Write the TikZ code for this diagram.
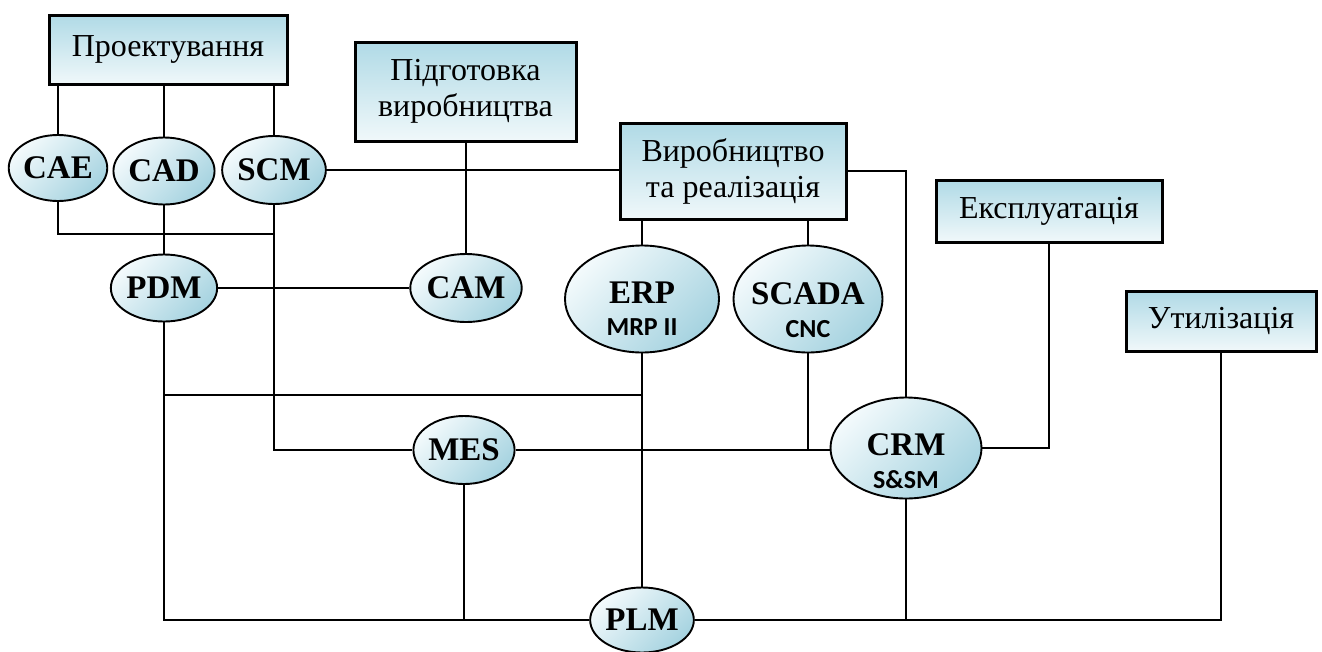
\documentclass[tikz,border=0pt]{standalone}
\usepackage{fontspec}
\setmainfont{Liberation Serif}
\newfontfamily\calib{Carlito}
\usetikzlibrary{shapes.geometric,backgrounds}
\definecolor{boxtop}{HTML}{B0DAE6}
\definecolor{boxbot}{HTML}{F0F8FA}
\definecolor{elllight}{HTML}{F3FAFC}
\definecolor{elldark}{HTML}{A6D3E0}
\begin{document}
\begin{tikzpicture}[x=1pt,y=-1pt,
  stagebox/.style={draw=black, line width=3pt, top color=boxtop, bottom color=boxbot,
    inner sep=0pt, align=center, font=\fontsize{32}{36}\selectfont},
  sysell/.style={ellipse, draw=black, line width=1.9pt, top color=elllight,
    bottom color=elldark, shading angle=45, inner sep=0pt,
    font=\fontsize{33}{36}\selectfont\bfseries},
  mainlbl/.style={anchor=base, inner sep=0pt, font=\fontsize{33}{36}\selectfont\bfseries},
  sublbl/.style={anchor=base, inner sep=0pt, font=\fontsize{26}{30}\selectfont\calib\bfseries},
  link/.style={draw=black, line width=1.9pt}]
\useasboundingbox (0,0) rectangle (1322,651);

% life-cycle stages
\node[stagebox, minimum width=238pt, minimum height=69pt] (proj) at (168,49.5) {Проектування};
\node[stagebox, minimum width=221pt, minimum height=99pt] (prep) at (465.5,91.5) {Підготовка\\виробництва};
\node[stagebox, minimum width=226pt, minimum height=96pt] (prod) at (733,171) {Виробництво\\та реалізація};
\node[stagebox, minimum width=226pt, minimum height=62pt] (expl) at (1049,211) {Експлуатація};
\node[stagebox, minimum width=190pt, minimum height=60pt] (util) at (1221,321) {Утилізація};

% information systems
\node[sysell, minimum width=97pt, minimum height=66pt] (cae) at (58,168) {CAE};
\node[sysell, minimum width=97pt, minimum height=67pt] (cad) at (164,171) {CAD};
\node[sysell, minimum width=97pt, minimum height=68pt] (scm) at (274,170) {SCM};
\node[sysell, minimum width=97pt, minimum height=67pt] (pdm) at (164,288) {PDM};
\node[sysell, minimum width=98pt, minimum height=68pt] (cam) at (466,288) {CAM};
\node[sysell, minimum width=154pt, minimum height=107pt] (erp) at (642,299) {};
\node[sysell, minimum width=149pt, minimum height=107pt] (scada) at (808,299) {};
\node[sysell, minimum width=97pt, minimum height=68pt] (mes) at (464,450) {MES};
\node[sysell, minimum width=151pt, minimum height=101pt] (crm) at (906,448) {};
\node[sysell, minimum width=98pt, minimum height=65pt] (plm) at (642,620) {PLM};

\node[mainlbl] (erpa) at ([yshift=-4pt]erp.center) {ERP};
\node[sublbl] (erpb) at ([yshift=-36pt]erp.center) {MRP II};
\node[mainlbl] (scadaa) at ([yshift=-5pt]scada.center) {SCADA};
\node[sublbl] (scadab) at ([yshift=-38pt]scada.center) {CNC};
\node[mainlbl] (crma) at ([yshift=-7pt]crm.center) {CRM};
\node[sublbl] (crmb) at ([yshift=-40pt]crm.center) {S\&SM};

\coordinate (j1) at (274,234);
\coordinate (j2) at (164,395);

\begin{scope}[on background layer]
  \draw[link] (cae.north) -- (cae.north |- proj.south);
  \draw[link] (cad.north) -- (cad.north |- proj.south);
  \draw[link] (scm.north) -- (scm.north |- proj.south);
  \draw[link] (scm.east) -- (scm.east -| prod.west);
  \draw[link] (cam.north) -- (cam.north |- prep.south);
  \draw[link] (cae.south) |- (j1);
  \draw[link] (cad.south) -- (pdm.north);
  \draw[link] (scm.south) |- (mes.west);
  \draw[link] (pdm.east) -- (cam.west);
  \draw[link] (pdm.south) |- (plm.west);
  \draw[link] (j2) -- (j2 -| erp.south);
  \draw[link] (erp.south) -- (plm.north);
  \draw[link] (erp.north) -- (erp.north |- prod.south);
  \draw[link] (scada.north) -- (scada.north |- prod.south);
  \draw[link] (mes.east) -- (mes.east -| crm.west);
  \draw[link] (scada.south) -- (scada.south |- mes.east);
  \draw[link] (mes.south) -- (mes.south |- plm.west);
  \draw[link] (prod.east) -| (crm.north);
  \draw[link] (crm.east) -| (expl.south);
  \draw[link] (plm.east) -| (util.south);
  \draw[link] (crm.south) -- (crm.south |- plm.east);
\end{scope}
\end{tikzpicture}
\end{document}
